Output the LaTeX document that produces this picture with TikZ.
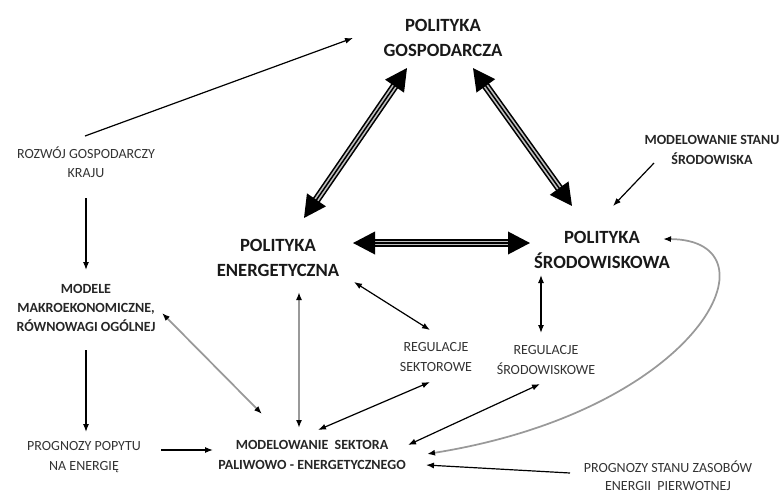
\documentclass[tikz,border=0pt]{standalone}
\usepackage{fontspec}
\setmainfont{Carlito}
\usetikzlibrary{arrows.meta}

\tikzset{
  title/.style={font=\bfseries\fontsize{14}{19}\selectfont, align=center, text=black!90},
  boldlabel/.style={font=\bfseries\fontsize{10.5}{14.5}\selectfont, align=center, text=black!85},
  plainlabel/.style={font=\fontsize{10.5}{14.5}\selectfont, align=center, text=black!80},
  link/.style={-{Latex[length=6pt,width=4.5pt]}, line width=0.9pt},
  twolink/.style={{Latex[length=6pt,width=4.5pt]}-{Latex[length=6pt,width=4.5pt]}, line width=0.9pt},
  graylink/.style={{Latex[length=6pt,width=4.5pt,black]}-{Latex[length=6pt,width=4.5pt,black]}, line width=1.3pt, draw=gray!80},
  bigshaft/.style={double=gray!50, double distance=3.6pt, line width=1.2pt, shorten <=14pt, shorten >=14pt},
  bigcore/.style={{Triangle[length=16.5pt,width=17pt]}-{Triangle[length=16.5pt,width=17pt]}, line width=1.1pt}
}
\newcommand{\triplearrow}[2]{%
  \draw[bigshaft] #1 -- #2;
  \draw[bigcore] #1 -- #2;}

\begin{document}
\begin{tikzpicture}[x=0.75pt,y=-0.75pt]
  \useasboundingbox (0,0) rectangle (783,494);

  % main policies
  \node[title] (gosp) at (443,38) {POLITYKA\\GOSPODARCZA};
  \node[title] (energ) at (278,258) {POLITYKA\\ENERGETYCZNA};
  \node[title] (srod) at (602,250) {POLITYKA\\ŚRODOWISKOWA};

  % models and forecasts
  \node[plainlabel] (rozwoj) at (86,162) {ROZWÓJ GOSPODARCZY\\KRAJU};
  \node[boldlabel] (modele) at (86,308) {MODELE\\MAKROEKONOMICZNE,\\RÓWNOWAGI OGÓLNEJ};
  \node[plainlabel] (popyt) at (84,457) {PROGNOZY POPYTU\\NA ENERGIĘ};
  \node[boldlabel] (sektor) at (312,455) {MODELOWANIE\ \ SEKTORA\\PALIWOWO - ENERGETYCZNEGO};
  \node[boldlabel] (stan) at (712,150) {MODELOWANIE STANU\\ŚRODOWISKA};
  \node[plainlabel] (regsek) at (436,357) {REGULACJE\\SEKTOROWE};
  \node[plainlabel] (regsrod) at (546,360) {REGULACJE\\ŚRODOWISKOWE};
  \node[plainlabel, font=\fontsize{10.5}{13.5}\selectfont] (zasoby) at (668,476) {PROGNOZY STANU ZASOBÓW\\ENERGII\ \ PIERWOTNEJ};

  % triangle of policies
  \triplearrow{([shift={(26,-40)}]energ.center)}{([shift={(-36,30)}]gosp.center)}
  \triplearrow{([shift={(30,30)}]gosp.center)}{([shift={(-30,-44)}]srod.center)}
  \triplearrow{([shift={(75,-15)}]energ.center)}{([shift={(-72,-7)}]srod.center)}

  % thin connectors
  \draw[link] ([shift={(-1,-26)}]rozwoj.center) -- ([shift={(-90,0)}]gosp.center);
  \draw[link] ([shift={(0,36)}]rozwoj.center) -- ([shift={(0,-38)}]modele.center);
  \draw[link] ([shift={(0,42)}]modele.center) -- ([shift={(2,-25)}]popyt.center);
  \draw[link] ([shift={(77,-7)}]popyt.center) -- ([shift={(-99,-5)}]sektor.center);
  \draw[link] ([shift={(-58,13)}]stan.center) -- ([shift={(11,-44)}]srod.center);
  \draw[link] ([shift={(-98,-3)}]zasoby.center) -- ([shift={(114,10)}]sektor.center);
  \draw[twolink] ([shift={(76,24)}]energ.center) -- ([shift={(-6,-27)}]regsek.center);
  \draw[twolink] ([shift={(-6,25)}]regsek.center) -- ([shift={(6,-25)}]sektor.center);
  \draw[twolink] ([shift={(-61,25)}]srod.center) -- ([shift={(-5,-27)}]regsrod.center);
  \draw[twolink] ([shift={(-6,24)}]regsrod.center) -- ([shift={(96,-10)}]sektor.center);

  % grey connectors
  \draw[graylink] ([shift={(76,5)}]modele.center) -- ([shift={(-50,-41)}]sektor.center);
  \draw[graylink] ([shift={(21,34)}]energ.center) -- ([shift={(-13,-27)}]sektor.center);
  \draw[graylink] ([shift={(115,-1)}]sektor.center) .. controls +(275,-44) and +(120,1) .. ([shift={(61,-11)}]srod.center);
\end{tikzpicture}
\end{document}
